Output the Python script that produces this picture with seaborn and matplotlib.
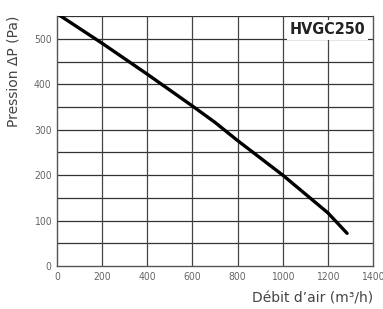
import matplotlib
matplotlib.use("Agg")
import matplotlib.pyplot as plt
import seaborn as sns
import pandas as pd

# fan curve
debit    = [10, 200, 400, 600, 700, 800, 1000, 1200, 1285]
pression = [552, 490, 422, 352, 316, 276, 200, 117, 72]
model    = "HVGC250"

x_ticks = list(range(0, 1401, 200))
y_ticks = list(range(0, 501, 100))

sns.set_style("white")
plt.rcParams["font.family"] = ["DejaVu Sans"]
plt.rcParams["font.stretch"] = "condensed"

df = pd.DataFrame({"debit": debit, "pression": pression})

fig = plt.figure(figsize=(3.83, 3.09), dpi=100)
ax = fig.add_axes([0.149, 0.139, 0.825, 0.809])

for y in range(50, 551, 50):
    ax.axhline(y, color="#333333", linewidth=0.9, zorder=1)
for x in x_ticks[1:-1]:
    ax.axvline(x, color="#444444", linewidth=0.9, zorder=1)

sns.lineplot(data=df, x="debit", y="pression", ax=ax, color="black",
             linewidth=2.4, zorder=3)

ax.set_xlim(0, 1400)
ax.set_ylim(0, 550)
ax.set_xticks(x_ticks)
ax.set_yticks(y_ticks)
ax.tick_params(labelsize=7.5, colors="#666666", length=0, pad=4)
for s in ax.spines.values():
    s.set_color("#555555")
    s.set_linewidth(1.0)
ax.spines["top"].set_visible(False)

ax.set_xlabel("Débit d’air (m³/h)", fontsize=10, color="#444444",
              fontstretch="normal")
ax.xaxis.set_label_coords(1.0, -0.1)
ax.xaxis.label.set_ha("right")
ax.set_ylabel("Pression ΔP (Pa)", fontsize=10, color="#444444",
              fontstretch="normal")
ax.yaxis.set_label_coords(-0.16, 1.0)
ax.yaxis.label.set_va("top")
ax.yaxis.label.set_ha("right")

ax.text(0.975, 0.945, model, transform=ax.transAxes, ha="right", va="center",
        fontsize=11.5, fontweight="bold", color="#222222", zorder=4,
        bbox=dict(facecolor="white", edgecolor="none", pad=2))

fig.savefig("out.png", dpi=100)
